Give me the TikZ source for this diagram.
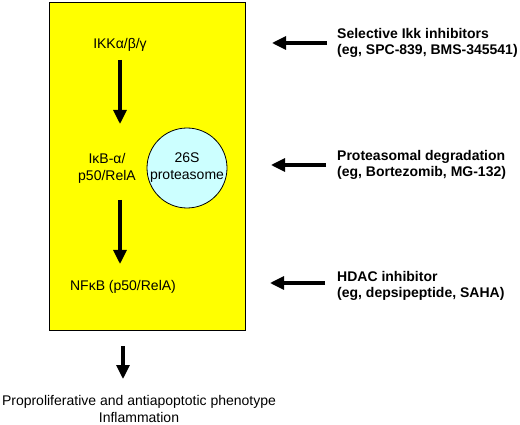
\documentclass[tikz,border=0pt]{standalone}
\usepackage{fontspec}
\setmainfont{Liberation Sans}
\usetikzlibrary{arrows.meta}
\definecolor{boxyellow}{HTML}{FFFF00}
\definecolor{protcyan}{HTML}{CCFFFF}
\begin{document}
\begin{tikzpicture}[x=1pt,y=-1pt,
  fat/.style={line width=3.2pt,-{Triangle[width=13pt,length=14pt]}},
  lbl/.style={font=\fontsize{14}{17}\selectfont,align=center,inner sep=0pt},
  blbl/.style={font=\fontsize{14}{16.5}\selectfont\bfseries,align=left,inner sep=0pt,anchor=west}]
\useasboundingbox (0,0) rectangle (520,425);
\node[draw=black,fill=boxyellow,line width=0.8pt,minimum width=196pt,minimum height=328pt,inner sep=0pt] (box) at (147,166) {};
\node[draw=black,fill=protcyan,line width=0.8pt,circle,minimum size=80pt,inner sep=0pt,align=center,font=\fontsize{14}{17}\selectfont] (prot) at (187,168) {26S\\proteasome};
\node[lbl] (ikk) at (120,45) {IKKα/β/γ};
\node[lbl] (ikb) at (107,168) {IκB-α/\\p50/RelA};
\node[lbl] (nfkb) at (123,287) {NFκB (p50/RelA)};
\node[lbl] (out) at (139,409) {Proproliferative and antiapoptotic phenotype\\Inflammation};
\coordinate (a1s) at (120,60);
\coordinate (a1e) at (120,124);
\coordinate (a2s) at (120,200);
\coordinate (a2e) at (120,264);
\coordinate (a3s) at (123,346);
\coordinate (a3e) at (123,379);
\draw[fat] (a1s) -- (a1e);
\draw[fat] (a2s) -- (a2e);
\draw[fat] (a3s) -- (a3e);
\node[blbl] (t1) at (337,43) {Selective Ikk inhibitors\\(eg, SPC-839, BMS-345541)};
\node[blbl] (t2) at (337,165) {Proteasomal degradation\\(eg, Bortezomib, MG-132)};
\node[blbl] (t3) at (337,286) {HDAC inhibitor\\(eg, depsipeptide, SAHA)};
\coordinate (r1) at (327,43);
\coordinate (r2) at (326,165);
\coordinate (r3) at (325,283);
\draw[fat] (r1) -- ++(-55,0);
\draw[fat] (r2) -- ++(-55,0);
\draw[fat] (r3) -- ++(-55,0);
\end{tikzpicture}
\end{document}
